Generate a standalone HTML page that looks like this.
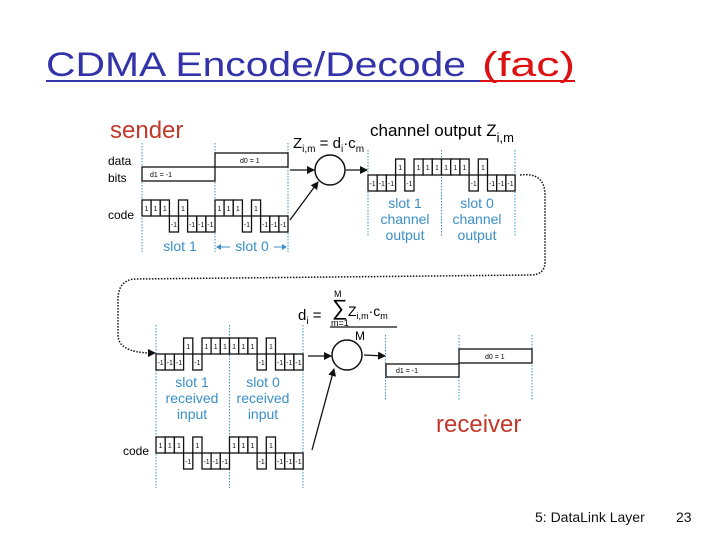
<!DOCTYPE html>
<html><head><meta charset="utf-8"><style>
body{margin:0;background:#fff}
svg{display:block}
text{font-family:"Liberation Sans",sans-serif}
.c rect{fill:#fff;stroke:#111;stroke-width:1.3}
.c text{font-size:7px;text-anchor:middle;fill:#111}
.d{stroke:#3a8fc8;stroke-width:1;stroke-dasharray:1.5 1.5}
.b{fill:#3a8fc8;font-size:14px;text-anchor:middle}
</style></head><body>
<svg width="720" height="540" viewBox="0 0 720 540" xmlns="http://www.w3.org/2000/svg">
<defs><marker id="a" markerWidth="8" markerHeight="8" refX="7" refY="4" orient="auto" markerUnits="userSpaceOnUse"><path d="M0,0 L8,4 L0,8z" fill="#111"/></marker></defs>
<text x="46" y="76" font-size="34" fill="#3333aa" textLength="420" lengthAdjust="spacingAndGlyphs">CDMA Encode/Decode</text>
<text x="482" y="76" font-size="34" fill="#dd1111" textLength="93" lengthAdjust="spacingAndGlyphs">(fac)</text>
<line x1="46" y1="81" x2="480" y2="81" stroke="#3333aa" stroke-width="2"/>
<line x1="480" y1="81" x2="575" y2="81" stroke="#dd1111" stroke-width="2"/>
<text x="535" y="522" font-size="14" fill="#111">5: DataLink Layer</text>
<text x="676" y="522" font-size="14" fill="#111">23</text>

<!-- sender -->
<text x="110" y="138" font-size="24" fill="#c0392b">sender</text>
<text x="108" y="165" font-size="12">data</text>
<text x="108" y="182" font-size="12">bits</text>
<text x="108" y="219" font-size="12">code</text>
<line class="d" x1="142" y1="143" x2="142" y2="252"/><line class="d" x1="215" y1="143" x2="215" y2="252"/><line class="d" x1="288" y1="143" x2="288" y2="252"/>
<rect x="142" y="167" width="73" height="14" fill="#fff" stroke="#111" stroke-width="1.3"/>
<text x="150" y="177" font-size="7">d1 = -1</text>
<rect x="215" y="153" width="73" height="14" fill="#fff" stroke="#111" stroke-width="1.3"/>
<text x="240" y="163" font-size="7">d0 = 1</text>
<g class="c">
<g transform="translate(142,216)"><rect y="-16" width="9.1" height="16"/><text x="4.5" y="-5">1</text></g>
<g transform="translate(151.1,216)"><rect y="-16" width="9.1" height="16"/><text x="4.5" y="-5">1</text></g>
<g transform="translate(160.3,216)"><rect y="-16" width="9.1" height="16"/><text x="4.5" y="-5">1</text></g>
<g transform="translate(169.4,216)"><rect width="9.1" height="16"/><text x="4.5" y="11">-1</text></g>
<g transform="translate(178.5,216)"><rect y="-16" width="9.1" height="16"/><text x="4.5" y="-5">1</text></g>
<g transform="translate(187.6,216)"><rect width="9.1" height="16"/><text x="4.5" y="11">-1</text></g>
<g transform="translate(196.8,216)"><rect width="9.1" height="16"/><text x="4.5" y="11">-1</text></g>
<g transform="translate(205.9,216)"><rect width="9.1" height="16"/><text x="4.5" y="11">-1</text></g>
<g transform="translate(215,216)"><rect y="-16" width="9.1" height="16"/><text x="4.5" y="-5">1</text></g>
<g transform="translate(224.1,216)"><rect y="-16" width="9.1" height="16"/><text x="4.5" y="-5">1</text></g>
<g transform="translate(233.3,216)"><rect y="-16" width="9.1" height="16"/><text x="4.5" y="-5">1</text></g>
<g transform="translate(242.4,216)"><rect width="9.1" height="16"/><text x="4.5" y="11">-1</text></g>
<g transform="translate(251.5,216)"><rect y="-16" width="9.1" height="16"/><text x="4.5" y="-5">1</text></g>
<g transform="translate(260.6,216)"><rect width="9.1" height="16"/><text x="4.5" y="11">-1</text></g>
<g transform="translate(269.8,216)"><rect width="9.1" height="16"/><text x="4.5" y="11">-1</text></g>
<g transform="translate(278.9,216)"><rect width="9.1" height="16"/><text x="4.5" y="11">-1</text></g>
</g>
<text class="b" x="180" y="251">slot 1</text>
<text class="b" x="252" y="251">slot 0</text>
<line x1="218" y1="247" x2="230" y2="247" stroke="#3a8fc8"/><path d="M216,247 l5,-3 v6z" fill="#3a8fc8"/>
<line x1="274" y1="247" x2="284" y2="247" stroke="#3a8fc8"/><path d="M287,247 l-5,-3 v6z" fill="#3a8fc8"/>
<text x="293" y="148" font-size="15">Z<tspan font-size="10" dy="4">i,m</tspan><tspan dy="-4"> = d</tspan><tspan font-size="10" dy="4">i</tspan><tspan dy="-4">·c</tspan><tspan font-size="10" dy="4">m</tspan></text>
<circle cx="330" cy="170" r="15" fill="#fff" stroke="#111" stroke-width="1.5"/>
<line x1="290" y1="170" x2="314" y2="170" stroke="#111" stroke-width="1.3" marker-end="url(#a)"/>
<line x1="290" y1="220" x2="318" y2="182" stroke="#111" stroke-width="1.3" marker-end="url(#a)"/>
<line x1="346" y1="170" x2="367" y2="170" stroke="#111" stroke-width="1.3" marker-end="url(#a)"/>
<text x="370" y="136" font-size="17">channel output Z<tspan font-size="13" dy="6">i,m</tspan></text>
<line class="d" x1="368" y1="150" x2="368" y2="236"/><line class="d" x1="441.5" y1="150" x2="441.5" y2="236"/><line class="d" x1="515" y1="150" x2="515" y2="236"/>
<g class="c">
<g transform="translate(368,175)"><rect width="9.2" height="16"/><text x="4.6" y="11">-1</text></g>
<g transform="translate(377.2,175)"><rect width="9.2" height="16"/><text x="4.6" y="11">-1</text></g>
<g transform="translate(386.4,175)"><rect width="9.2" height="16"/><text x="4.6" y="11">-1</text></g>
<g transform="translate(395.6,175)"><rect y="-16" width="9.2" height="16"/><text x="4.6" y="-5">1</text></g>
<g transform="translate(404.8,175)"><rect width="9.2" height="16"/><text x="4.6" y="11">-1</text></g>
<g transform="translate(414,175)"><rect y="-16" width="9.2" height="16"/><text x="4.6" y="-5">1</text></g>
<g transform="translate(423.1,175)"><rect y="-16" width="9.2" height="16"/><text x="4.6" y="-5">1</text></g>
<g transform="translate(432.3,175)"><rect y="-16" width="9.2" height="16"/><text x="4.6" y="-5">1</text></g>
<g transform="translate(441.5,175)"><rect y="-16" width="9.2" height="16"/><text x="4.6" y="-5">1</text></g>
<g transform="translate(450.7,175)"><rect y="-16" width="9.2" height="16"/><text x="4.6" y="-5">1</text></g>
<g transform="translate(459.9,175)"><rect y="-16" width="9.2" height="16"/><text x="4.6" y="-5">1</text></g>
<g transform="translate(469.1,175)"><rect width="9.2" height="16"/><text x="4.6" y="11">-1</text></g>
<g transform="translate(478.3,175)"><rect y="-16" width="9.2" height="16"/><text x="4.6" y="-5">1</text></g>
<g transform="translate(487.5,175)"><rect width="9.2" height="16"/><text x="4.6" y="11">-1</text></g>
<g transform="translate(496.7,175)"><rect width="9.2" height="16"/><text x="4.6" y="11">-1</text></g>
<g transform="translate(505.9,175)"><rect width="9.2" height="16"/><text x="4.6" y="11">-1</text></g>
</g>
<text class="b" x="405" y="208">slot 1</text><text class="b" x="405" y="224">channel</text><text class="b" x="405" y="240">output</text>
<text class="b" x="477" y="208">slot 0</text><text class="b" x="477" y="224">channel</text><text class="b" x="477" y="240">output</text>
<path d="M520,175 Q545,172 545,195 L545,262 Q545,275 530,275 L135,279 Q118,280 118,300 L118,335 Q118,352 150,353" fill="none" stroke="#111" stroke-width="1.5" stroke-dasharray="1.5 1.5"/>
<path d="M156,353 l-8,-4 v8z" fill="#111"/>

<!-- receiver -->
<text x="298" y="320" font-size="15">d<tspan font-size="10" dy="4">i</tspan><tspan dy="-4"> = </tspan></text>
<text x="332" y="315" font-size="22">∑</text>
<text x="334" y="297" font-size="9">M</text>
<text x="331" y="326" font-size="9">m=1</text>
<text x="348" y="316" font-size="14">Z<tspan font-size="9" dy="3">i,m</tspan><tspan dy="-3">·c</tspan><tspan font-size="9" dy="3">m</tspan></text>
<line x1="330" y1="327" x2="397" y2="327" stroke="#111" stroke-width="1.3"/>
<text x="355" y="340" font-size="12">M</text>
<line class="d" x1="156" y1="325" x2="156" y2="488"/><line class="d" x1="229.5" y1="325" x2="229.5" y2="488"/><line class="d" x1="303" y1="325" x2="303" y2="488"/>
<g class="c">
<g transform="translate(156,354)"><rect width="9.2" height="16"/><text x="4.6" y="11">-1</text></g>
<g transform="translate(165.2,354)"><rect width="9.2" height="16"/><text x="4.6" y="11">-1</text></g>
<g transform="translate(174.4,354)"><rect width="9.2" height="16"/><text x="4.6" y="11">-1</text></g>
<g transform="translate(183.6,354)"><rect y="-16" width="9.2" height="16"/><text x="4.6" y="-5">1</text></g>
<g transform="translate(192.8,354)"><rect width="9.2" height="16"/><text x="4.6" y="11">-1</text></g>
<g transform="translate(202,354)"><rect y="-16" width="9.2" height="16"/><text x="4.6" y="-5">1</text></g>
<g transform="translate(211.1,354)"><rect y="-16" width="9.2" height="16"/><text x="4.6" y="-5">1</text></g>
<g transform="translate(220.3,354)"><rect y="-16" width="9.2" height="16"/><text x="4.6" y="-5">1</text></g>
<g transform="translate(229.5,354)"><rect y="-16" width="9.2" height="16"/><text x="4.6" y="-5">1</text></g>
<g transform="translate(238.7,354)"><rect y="-16" width="9.2" height="16"/><text x="4.6" y="-5">1</text></g>
<g transform="translate(247.9,354)"><rect y="-16" width="9.2" height="16"/><text x="4.6" y="-5">1</text></g>
<g transform="translate(257.1,354)"><rect width="9.2" height="16"/><text x="4.6" y="11">-1</text></g>
<g transform="translate(266.3,354)"><rect y="-16" width="9.2" height="16"/><text x="4.6" y="-5">1</text></g>
<g transform="translate(275.5,354)"><rect width="9.2" height="16"/><text x="4.6" y="11">-1</text></g>
<g transform="translate(284.7,354)"><rect width="9.2" height="16"/><text x="4.6" y="11">-1</text></g>
<g transform="translate(293.9,354)"><rect width="9.2" height="16"/><text x="4.6" y="11">-1</text></g>
</g>
<text class="b" x="192" y="387">slot 1</text><text class="b" x="192" y="403">received</text><text class="b" x="192" y="419">input</text>
<text class="b" x="263" y="387">slot 0</text><text class="b" x="263" y="403">received</text><text class="b" x="263" y="419">input</text>
<text x="123" y="455" font-size="12">code</text>
<g class="c">
<g transform="translate(156,453)"><rect y="-16" width="9.2" height="16"/><text x="4.6" y="-5">1</text></g>
<g transform="translate(165.2,453)"><rect y="-16" width="9.2" height="16"/><text x="4.6" y="-5">1</text></g>
<g transform="translate(174.4,453)"><rect y="-16" width="9.2" height="16"/><text x="4.6" y="-5">1</text></g>
<g transform="translate(183.6,453)"><rect width="9.2" height="16"/><text x="4.6" y="11">-1</text></g>
<g transform="translate(192.8,453)"><rect y="-16" width="9.2" height="16"/><text x="4.6" y="-5">1</text></g>
<g transform="translate(202,453)"><rect width="9.2" height="16"/><text x="4.6" y="11">-1</text></g>
<g transform="translate(211.1,453)"><rect width="9.2" height="16"/><text x="4.6" y="11">-1</text></g>
<g transform="translate(220.3,453)"><rect width="9.2" height="16"/><text x="4.6" y="11">-1</text></g>
<g transform="translate(229.5,453)"><rect y="-16" width="9.2" height="16"/><text x="4.6" y="-5">1</text></g>
<g transform="translate(238.7,453)"><rect y="-16" width="9.2" height="16"/><text x="4.6" y="-5">1</text></g>
<g transform="translate(247.9,453)"><rect y="-16" width="9.2" height="16"/><text x="4.6" y="-5">1</text></g>
<g transform="translate(257.1,453)"><rect width="9.2" height="16"/><text x="4.6" y="11">-1</text></g>
<g transform="translate(266.3,453)"><rect y="-16" width="9.2" height="16"/><text x="4.6" y="-5">1</text></g>
<g transform="translate(275.5,453)"><rect width="9.2" height="16"/><text x="4.6" y="11">-1</text></g>
<g transform="translate(284.7,453)"><rect width="9.2" height="16"/><text x="4.6" y="11">-1</text></g>
<g transform="translate(293.9,453)"><rect width="9.2" height="16"/><text x="4.6" y="11">-1</text></g>
</g>
<circle cx="347" cy="355" r="15" fill="#fff" stroke="#111" stroke-width="1.5"/>
<line x1="308" y1="356" x2="331" y2="356" stroke="#111" stroke-width="1.3" marker-end="url(#a)"/>
<line x1="312" y1="450" x2="334" y2="369" stroke="#111" stroke-width="1.3" marker-end="url(#a)"/>
<line x1="364" y1="355" x2="385" y2="356" stroke="#111" stroke-width="1.3" marker-end="url(#a)"/>
<line class="d" x1="385.5" y1="335" x2="385.5" y2="400"/><line class="d" x1="459" y1="335" x2="459" y2="400"/><line class="d" x1="532" y1="335" x2="532" y2="400"/>
<rect x="386" y="364" width="73" height="13" fill="#fff" stroke="#111" stroke-width="1.3"/>
<text x="396" y="373" font-size="7">d1 = -1</text>
<rect x="459" y="349" width="73" height="14" fill="#fff" stroke="#111" stroke-width="1.3"/>
<text x="485" y="359" font-size="7">d0 = 1</text>
<text x="436" y="432" font-size="24" fill="#c0392b">receiver</text>
</svg>
</body></html>
